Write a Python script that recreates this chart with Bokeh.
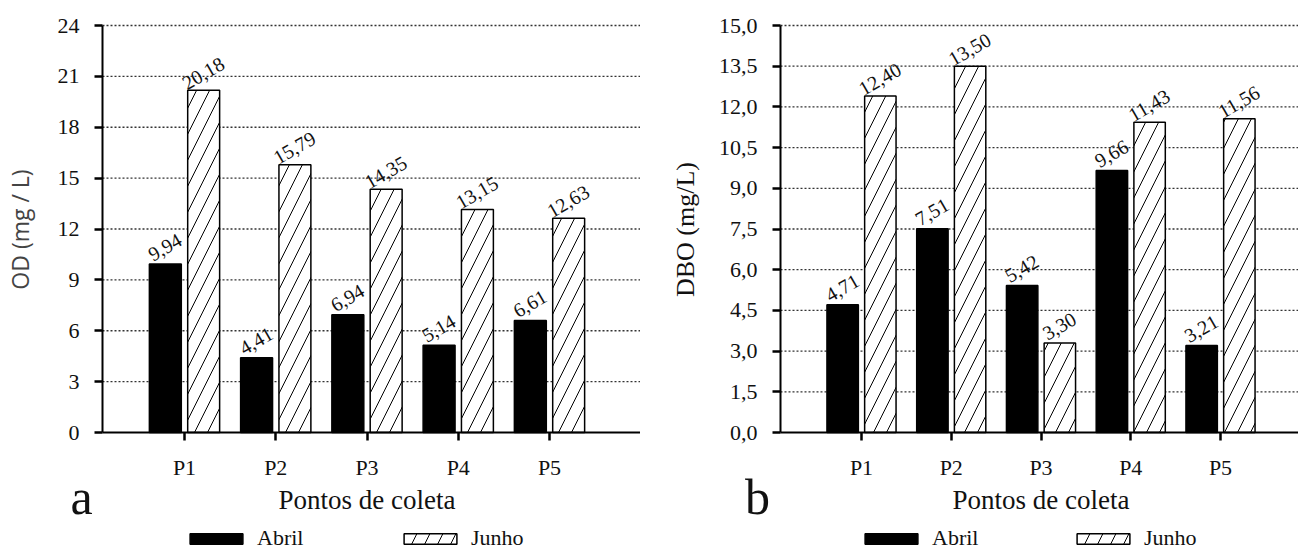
from bokeh.plotting import figure
from bokeh.models import ColumnDataSource, FixedTicker, Legend, LegendItem, Range1d
from bokeh.layouts import row
from bokeh.embed import file_html
from bokeh.resources import INLINE
from bokeh.core.properties import value
from bokeh.transform import dodge

# ---- data ----
pontos = ["P1", "P2", "P3", "P4", "P5"]
series_names = ["Abril", "Junho"]
od_abril = [9.94, 4.41, 6.94, 5.14, 6.61]
od_junho = [20.18, 15.79, 14.35, 13.15, 12.63]
dbo_abril = [4.71, 7.51, 5.42, 9.66, 3.21]
dbo_junho = [12.40, 13.50, 3.30, 11.43, 11.56]
od_ticks = [0, 3, 6, 9, 12, 15, 18, 21, 24]
dbo_ticks = [0, 1.5, 3, 4.5, 6, 7.5, 9, 10.5, 12, 13.5, 15]

SERIF = "Liberation Serif"
H = 551


def fmt2(v):
    return f"{v:.2f}".replace(".", ",")


def make_panel(abril, junho, ticks, tick_fmt, ylabel, ylabel_font, ylabel_size,
               ylabel_color, ylabel_px, letter, letter_px, width, axis_px, p1_px,
               step_px, legend_px, label_width):
    # layout in pixels -> data ranges (frame covers whole canvas)
    top_px, zero_px = 25, 432
    ymax = ticks[-1]
    ypu = (zero_px - top_px) / ymax

    def X(px):
        return 1 + (px - p1_px) / step_px

    def Y(py):
        return (zero_px - py) / ypu

    x_start, x_end, yaxis_x = X(0), X(width), X(axis_px)

    xs = list(range(1, len(pontos) + 1))
    src = ColumnDataSource(dict(
        x=xs, abril=abril, junho=junho,
        la=[fmt2(v) for v in abril], lj=[fmt2(v) for v in junho]))

    p = figure(width=width, height=H, output_backend="svg", toolbar_location=None,
               title=None, x_range=Range1d(x_start, x_end), y_range=Range1d(Y(H), Y(0)),
               min_border=0)
    p.outline_line_color = None
    p.background_fill_color = "white"
    p.border_fill_color = "white"
    p.xgrid.visible = False
    p.ygrid.visible = False

    # dotted horizontal grid lines at the y ticks
    gl = [t for t in ticks if t != 0]
    p.segment(x0=[yaxis_x] * len(gl), x1=[x_end] * len(gl), y0=gl, y1=gl,
              line_color="#333333", line_width=1.3, line_dash="2 2")

    off = 0.21
    ra = p.vbar(x=dodge("x", -off), top="abril", bottom=0, width=0.35, source=src,
                fill_color="black", line_color="black", line_width=1.5)
    rj = p.vbar(x=dodge("x", off), top="junho", bottom=0, width=0.35, source=src,
                fill_color="white", line_color="black", line_width=1.5,
                hatch_pattern="/", hatch_color="black", hatch_weight=1, hatch_scale=26)

    for col, lab, o in (("abril", "la", -off), ("junho", "lj", off)):
        p.text(x=dodge("x", o), y=col, text=lab, source=src,
               angle=30, angle_units="deg", text_align="center", text_baseline="bottom",
               x_offset=3, y_offset=-11, text_font=value(SERIF), text_font_size="20px",
               text_color="#111111")

    p.xaxis.ticker = FixedTicker(ticks=xs)
    p.xaxis.major_label_overrides = {x: n for x, n in zip(xs, pontos)}
    p.xaxis.fixed_location = 0
    p.xaxis.bounds = (yaxis_x, x_end)
    p.yaxis.ticker = FixedTicker(ticks=ticks)
    p.yaxis.major_label_overrides = {t: tick_fmt(t) for t in ticks}
    p.yaxis.fixed_location = yaxis_x
    p.yaxis.bounds = (ticks[0], ticks[-1])
    for ax in (p.xaxis[0], p.yaxis[0]):
        ax.axis_line_width = 2
        ax.axis_line_color = "black"
        ax.major_tick_line_width = 2.5
        ax.major_tick_line_color = "black"
        ax.major_tick_out = 8
        ax.major_tick_in = 0
        ax.minor_tick_out = 0
        ax.minor_tick_in = 0
        ax.major_label_text_font = SERIF
        ax.major_label_text_font_size = "22px"
        ax.major_label_text_color = "#111111"
    p.xaxis.major_label_standoff = 14
    p.yaxis.major_label_standoff = 15

    # axis titles and panel letter (text glyphs; frame spans the whole canvas)
    p.text(x=[sum(xs) / len(xs)], y=[Y(499)], text=["Pontos de coleta"],
           text_align="center", text_baseline="middle", text_font=value(SERIF),
           text_font_size="27px", text_color="#111111")
    p.text(x=[X(ylabel_px)], y=[Y(229)], text=[ylabel], angle=90, angle_units="deg",
           text_align="center", text_baseline="middle", text_font=value(ylabel_font),
           text_font_size=ylabel_size, text_color=ylabel_color)
    p.text(x=[X(letter_px)], y=[Y(496)], text=[letter], text_align="center",
           text_baseline="middle", text_font=value(SERIF), text_font_size="50px",
           text_color="#111111")

    legend = Legend(items=[LegendItem(label=series_names[0], renderers=[ra]),
                           LegendItem(label=series_names[1], renderers=[rj])],
                    location=(legend_px, 0), orientation="horizontal",
                    glyph_width=66, glyph_height=13, label_standoff=8,
                    label_width=label_width, spacing=0, padding=0, margin=0,
                    border_line_color=None, background_fill_alpha=0,
                    label_text_font=SERIF, label_text_font_size="22px",
                    label_text_color="#111111")
    p.add_layout(legend, "center")
    return p


p1 = make_panel(od_abril, od_junho, od_ticks, lambda t: f"{t:g}",
                "OD (mg / L)", "Open Sans", "23px", "#444444", 19,
                "a", 81, 640, 102, 184, 91.25, 183, 140)
p2 = make_panel(dbo_abril, dbo_junho, dbo_ticks, lambda t: f"{t:.1f}".replace(".", ","),
                "DBO (mg/L)", SERIF, "26px", "#111111", 45,
                "b", 117, 658, 140, 221, 89.75, 218, 138)

layout = row(p1, p2)
open("out.html", "w").write(file_html(layout, INLINE))
